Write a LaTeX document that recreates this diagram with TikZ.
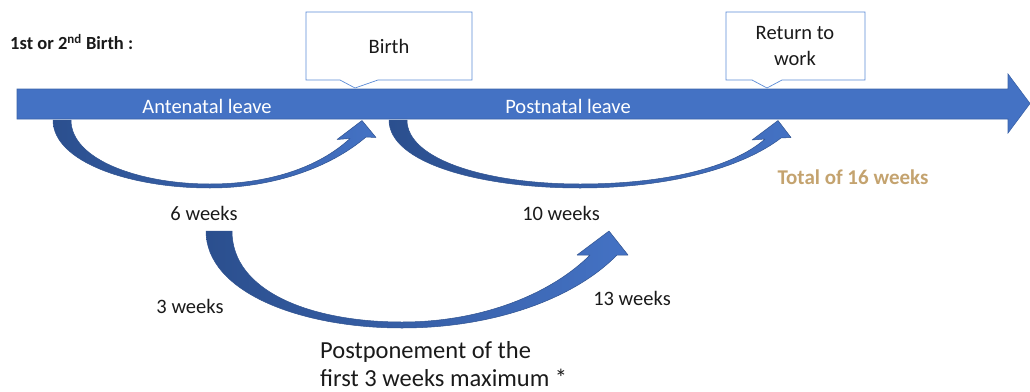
\documentclass[tikz,border=0pt]{standalone}
\usepackage{fontspec}
\setmainfont{Carlito}
\definecolor{barblue}{HTML}{4472C4}
\definecolor{bardark}{HTML}{3A62A8}
\definecolor{arrdark}{HTML}{2B4F8E}
\definecolor{arredge}{HTML}{2F528F}
\definecolor{calloutline}{HTML}{5B8BD6}
\definecolor{tanfg}{HTML}{C4A36F}
\definecolor{txt}{HTML}{1A1A1A}
\begin{document}
\begin{tikzpicture}[x=1pt,y=-1pt,
  curvarrow/.style={left color=arrdark, right color=barblue, draw=arredge, line width=0.5pt, line join=round},
  callout/.style={fill=white, draw=calloutline, line width=0.7pt, line join=miter},
  mainbar/.style={fill=barblue, draw=bardark, line width=0.6pt, line join=miter},
  lbl/.style={inner sep=0pt, text=txt, font=\fontsize{20.5}{24}\selectfont},
  barlbl/.style={inner sep=0pt, text=white, font=\fontsize{20.5}{24}\selectfont},
  boxlbl/.style={inner sep=0pt, text=txt, align=center, font=\fontsize{20.5}{26}\selectfont}]
\useasboundingbox (0,0) rectangle (1030,391);

% curved arrows
\path[curvarrow] (53,120) .. controls (53,162) and (130,188) .. (210,188)
  .. controls (272,188) and (330,168) .. (366,137) -- (376,137.5) -- (362,120.5)
  -- (337,139.5) -- (350,138.5) .. controls (318,168) and (268,184) .. (210,184)
  .. controls (140,184) and (71,160) .. (71,120) -- cycle;
\path[curvarrow] (389,120) .. controls (389,163) and (480,188) .. (580,188)
  .. controls (668,188) and (742,168) .. (781,138) -- (791,137.5) -- (778,120.5)
  -- (752,140) -- (765,139) .. controls (732,168) and (664,184) .. (580,184)
  .. controls (488,184) and (407,160) .. (407,120) -- cycle;
\path[curvarrow] (206,231) .. controls (206,292) and (300,328) .. (402,328)
  .. controls (495,328) and (575,298) .. (617,255) -- (628,255) -- (609,231)
  -- (577,255) -- (590,255) .. controls (553,292) and (485,322) .. (402,322)
  .. controls (312,322) and (232,292) .. (232,231) -- cycle;

% main timeline arrow
\path[mainbar] (17,89) -- (1008,89) -- (1008,74) -- (1030,103.5) -- (1008,133)
  -- (1008,119) -- (17,119) -- cycle;

% callouts
\path[callout] (306,12) -- (472,12) -- (472,80) -- (378,80) -- (355,88)
  -- (340,80) -- (306,80) -- cycle;
\path[callout] (726,12) -- (865,12) -- (865,80) -- (782,80) -- (767,88)
  -- (752,80) -- (726,80) -- cycle;

\node[boxlbl] (birth) at (389,46) {Birth};
\node[boxlbl] (return) at (795,46) {Return to\\work};

% texts
\node[inner sep=0pt, anchor=west, text=txt, font=\fontsize{18.5}{22}\selectfont\bfseries] (title) at (10,42) {1st or 2\textsuperscript{nd} Birth :};
\node[barlbl] (ante) at (207,106) {Antenatal leave};
\node[barlbl] (post) at (568,106) {Postnatal leave};
\node[inner sep=0pt, text=tanfg, font=\fontsize{21}{24}\selectfont\bfseries] (total) at (853,177) {Total of 16 weeks};
\node[lbl] (six) at (204,213) {6 weeks};
\node[lbl] (ten) at (561,213) {10 weeks};
\node[lbl] (three) at (190,306) {3 weeks};
\node[lbl] (thirteen) at (632,298) {13 weeks};
\node[inner sep=0pt, anchor=west, align=left, text=txt, font=\fontsize{24.5}{28}\selectfont] (postp) at (320,364) {Postponement of the\\first 3 weeks maximum *};
\end{tikzpicture}
\end{document}
